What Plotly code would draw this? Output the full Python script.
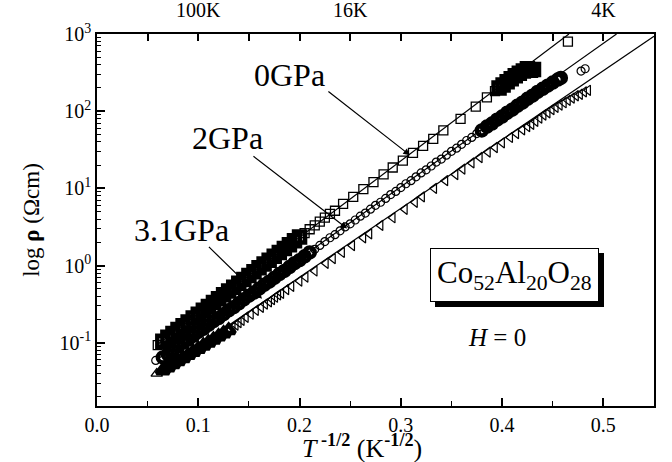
import plotly.graph_objects as go

# ---------------- data (x = T^-1/2 in K^-1/2, values = log10 rho) ----------------
# 0 GPa (squares)
p0_solid_x = [0.065, 0.070, 0.075, 0.080, 0.085, 0.090, 0.095, 0.100, 0.105, 0.110,
              0.115, 0.120, 0.125, 0.130, 0.135, 0.140, 0.145, 0.150, 0.155, 0.160,
              0.165, 0.170, 0.175, 0.180, 0.185, 0.190, 0.195, 0.200,
              0.397, 0.401, 0.405, 0.409, 0.413, 0.417, 0.421, 0.425, 0.428, 0.431]
p0_solid_log = [-0.98, -0.93, -0.88, -0.83, -0.78, -0.73, -0.68, -0.63, -0.58, -0.53,
                -0.48, -0.43, -0.38, -0.33, -0.28, -0.23, -0.18, -0.13, -0.08, -0.03,
                0.02, 0.07, 0.12, 0.17, 0.22, 0.27, 0.32, 0.37,
                2.30, 2.34, 2.38, 2.42, 2.46, 2.49, 2.52, 2.55, 2.53, 2.54]
p0_open_x = [0.060, 0.205, 0.210, 0.215, 0.220, 0.225, 0.230, 0.235,
             0.243, 0.253, 0.263, 0.273, 0.283, 0.292, 0.302, 0.312, 0.322, 0.332,
             0.342, 0.359, 0.374, 0.385, 0.393, 0.465]
p0_open_log = [-1.03, 0.42, 0.47, 0.52, 0.57, 0.62, 0.67, 0.71,
               0.80, 0.89, 0.99, 1.08, 1.18, 1.27, 1.36, 1.46, 1.55, 1.64,
               1.75, 1.90, 2.06, 2.18, 2.26, 2.90]

# 2 GPa (circles)
p2_solid_x = [0.065, 0.070, 0.075, 0.080, 0.085, 0.090, 0.095, 0.100, 0.105, 0.110,
              0.115, 0.120, 0.125, 0.130, 0.135, 0.140, 0.145, 0.150, 0.155, 0.160,
              0.165, 0.170, 0.175, 0.180, 0.185, 0.190, 0.195, 0.200, 0.205, 0.210,
              0.380, 0.385, 0.390, 0.395, 0.400, 0.405, 0.410, 0.415, 0.420, 0.425,
              0.430, 0.435, 0.440, 0.445, 0.450, 0.455, 0.458]
p2_solid_log = [-1.19, -1.15, -1.10, -1.05, -1.00, -0.96, -0.91, -0.86, -0.82, -0.77,
                -0.72, -0.68, -0.63, -0.58, -0.54, -0.49, -0.44, -0.39, -0.35, -0.30,
                -0.25, -0.21, -0.16, -0.11, -0.07, -0.02, 0.03, 0.07, 0.12, 0.17,
                1.75, 1.80, 1.84, 1.89, 1.93, 1.98, 2.02, 2.07, 2.11, 2.16,
                2.20, 2.25, 2.29, 2.33, 2.37, 2.41, 2.43]
p2_open_x = [0.058,
             0.215, 0.220, 0.225, 0.230, 0.235, 0.240, 0.245, 0.250, 0.255, 0.260,
             0.265, 0.270, 0.275, 0.280, 0.285, 0.290, 0.295, 0.300, 0.305, 0.310,
             0.315, 0.320, 0.325, 0.330, 0.335, 0.340, 0.345, 0.350, 0.355, 0.360,
             0.365, 0.370, 0.375,
             0.478, 0.482]
p2_open_log = [-1.23,
               0.21, 0.26, 0.31, 0.36, 0.40, 0.45, 0.50, 0.54, 0.59, 0.64,
               0.68, 0.73, 0.78, 0.82, 0.87, 0.92, 0.96, 1.01, 1.06, 1.10,
               1.15, 1.20, 1.24, 1.29, 1.34, 1.38, 1.43, 1.48, 1.52, 1.57,
               1.62, 1.66, 1.71,
               2.52, 2.55]

# 3.1 GPa (triangles)
p3_first_x = [0.059]
p3_first_log = [-1.40]
p3_solid_x = [0.065, 0.070, 0.075, 0.080, 0.085, 0.090, 0.095, 0.100, 0.105, 0.110,
              0.115, 0.120, 0.125, 0.130]
p3_solid_log = [-1.36, -1.32, -1.28, -1.24, -1.20, -1.16, -1.12, -1.08, -1.04, -1.00,
                -0.96, -0.92, -0.88, -0.84]
p3_open_x = [0.134, 0.137, 0.140, 0.143, 0.147, 0.152, 0.157, 0.162, 0.166, 0.170,
             0.173, 0.176, 0.179, 0.182, 0.187, 0.192,
             0.200, 0.206, 0.215, 0.226, 0.233, 0.242, 0.252, 0.263, 0.269, 0.280,
             0.292, 0.304, 0.314, 0.321, 0.333, 0.344, 0.354, 0.361, 0.370, 0.378,
             0.386, 0.393, 0.400, 0.408, 0.414, 0.420,
             0.425, 0.429, 0.433, 0.437, 0.441, 0.445, 0.449, 0.453, 0.457, 0.461,
             0.465, 0.469, 0.473, 0.477, 0.481, 0.485]
p3_open_log = [-0.80, -0.77, -0.74, -0.71, -0.67, -0.63, -0.58, -0.54, -0.50, -0.47,
               -0.44, -0.41, -0.38, -0.36, -0.31, -0.27,
               -0.20, -0.15, -0.07, 0.03, 0.09, 0.17, 0.26, 0.36, 0.41, 0.52,
               0.62, 0.73, 0.82, 0.89, 1.00, 1.10, 1.18, 1.25, 1.33, 1.40,
               1.47, 1.53, 1.59, 1.66, 1.71, 1.76,
               1.80, 1.83, 1.87, 1.91, 1.95, 1.98, 2.02, 2.05, 2.08, 2.11,
               2.14, 2.17, 2.20, 2.22, 2.25, 2.27]

# straight-line fits (log rho vs T^-1/2)
fit0_x, fit0_log = [0.059, 0.466], [-1.03, 3.0]
fit2_x, fit2_log = [0.060, 0.513], [-1.21, 3.0]
fit3_x, fit3_log = [0.060, 0.550], [-1.40, 2.97]

# top axis: temperature labels
top_tick_x = [0.05, 0.10, 0.15, 0.20, 0.25, 0.30, 0.35, 0.40, 0.45, 0.50]
top_tick_text = ["", "100K", "", "", "16K", "", "", "", "", "4K"]

# y axis decades
y_decades = [0.1, 1, 10, 100, 1000]
y_decade_text = ["10<sup>-1</sup>", "10<sup>0</sup>", "10<sup>1</sup>",
                 "10<sup>2</sup>", "10<sup>3</sup>"]
y_minor = [m * 10.0 ** e for e in (-2, -1, 0, 1, 2) for m in range(2, 10)]

FONT = "Liberation Serif"


def rho(vals):
    return [10.0 ** v for v in vals]


fig = go.Figure()

# fitted lines (on the top x axis, identical range)
for fx, fl in ((fit0_x, fit0_log), (fit2_x, fit2_log), (fit3_x, fit3_log)):
    fig.add_trace(go.Scatter(x=fx, y=rho(fl), mode="lines", xaxis="x2",
                             line=dict(color="black", width=1.2),
                             showlegend=False, hoverinfo="skip"))


def markers(x, lg, symbol, size, lw):
    fig.add_trace(go.Scatter(
        x=x, y=rho(lg), mode="markers", showlegend=False,
        marker=dict(symbol=symbol, size=size, color="black",
                    line=dict(color="black", width=lw))))


markers(p0_solid_x, p0_solid_log, "square-open", 11, 4.5)
markers(p0_open_x, p0_open_log, "square-open", 9, 1.3)
markers(p2_solid_x, p2_solid_log, "circle-open", 10, 4.5)
markers(p2_open_x, p2_open_log, "circle-open", 8, 1.2)
markers(p3_solid_x, p3_solid_log, "triangle-up-open", 11, 4.5)
markers(p3_first_x, p3_first_log, "triangle-up-open", 10, 1.3)
markers(p3_open_x, p3_open_log, "triangle-left-open", 9, 1.2)

ann = []
label_font = dict(family=FONT, size=32, color="black")
for txt, x, y in (("0GPa", 0.190, 2.47), ("2GPa", 0.129, 1.65), ("3.1GPa", 0.083, 0.455)):
    ann.append(dict(x=x, y=y, xref="x", yref="y", text=txt, showarrow=False,
                    font=label_font))
for (hx, hy), (tx, ty) in (((0.309, 1.43), (0.227, 2.27)),
                           ((0.247, 0.48), (0.153, 1.43)),
                           ((0.163, -0.43), (0.109, 0.26))):
    ann.append(dict(x=hx, y=hy, ax=tx, ay=ty, xref="x", yref="y", axref="x", ayref="y",
                    text="", showarrow=True, arrowhead=2, arrowsize=1.1,
                    arrowwidth=1.2, arrowcolor="black"))

comp = "Co<sub>52</sub>Al<sub>20</sub>O<sub>28</sub>"
box_font = dict(family=FONT, size=31, color="black")
ann.append(dict(x=0.412, y=-0.117, xref="x", yref="y", text=comp, showarrow=False,
                font=box_font, bgcolor="black", bordercolor="black", borderwidth=1,
                borderpad=6, xshift=5, yshift=-5))
ann.append(dict(x=0.412, y=-0.117, xref="x", yref="y", text=comp, showarrow=False,
                font=box_font, bgcolor="white", bordercolor="black", borderwidth=1,
                borderpad=6))
ann.append(dict(x=0.395, y=-0.935, xref="x", yref="y", text="<i>H</i> = 0",
                showarrow=False, font=dict(family=FONT, size=25, color="black")))
# x-axis title (slightly left of centre, as in the reference)
ann.append(dict(x=0.476, y=-0.108, xref="paper", yref="paper", xanchor="center",
                yanchor="middle", showarrow=False,
                text="<i>T</i><sup> <b>-1/2</b></sup> (K<sup><b>-1/2</b></sup>)",
                font=dict(family=FONT, size=26, color="black")))

fig.update_layout(
    width=672, height=462,
    margin=dict(l=97, r=18, t=34, b=56, autoexpand=False),
    paper_bgcolor="white", plot_bgcolor="white",
    font=dict(family=FONT, color="black"),
    showlegend=False,
    annotations=ann,
    xaxis=dict(range=[0, 0.55], showline=True, linecolor="black", linewidth=1.5,
               ticks="inside", ticklen=8, tickwidth=1.5, tickcolor="black",
               tickvals=[0, 0.1, 0.2, 0.3, 0.4, 0.5], tickformat=".1f",
               minor=dict(ticks="inside", ticklen=5, tickwidth=1.2, tickcolor="black",
                          tickvals=[0.05, 0.15, 0.25, 0.35, 0.45]),
               tickfont=dict(family=FONT, size=20), showgrid=False, zeroline=False,
               automargin=False),
    xaxis2=dict(range=[0, 0.55], overlaying="x", side="top", anchor="y",
                showline=True, linecolor="black", linewidth=1.5,
                ticks="inside", ticklen=7, tickwidth=1.5, tickcolor="black",
                tickvals=top_tick_x, ticktext=top_tick_text, ticklabelstandoff=7,
                tickfont=dict(family=FONT, size=20), showgrid=False, zeroline=False,
                automargin=False),
    yaxis=dict(type="log", range=[-1.82, 3.0], showline=True, mirror=True,
               linecolor="black", linewidth=1.5,
               ticks="inside", ticklen=8, tickwidth=1.5, tickcolor="black",
               tickvals=y_decades, ticktext=y_decade_text,
               minor=dict(ticks="inside", ticklen=4, tickwidth=1.2, tickcolor="black",
                          tickvals=y_minor),
               tickfont=dict(family=FONT, size=20), showgrid=False, zeroline=False,
               automargin=False,
               title=dict(text="log <b>ρ</b> (Ωcm)", font=dict(family=FONT, size=23),
                          standoff=14)),
)

fig.write_html("out.html")
